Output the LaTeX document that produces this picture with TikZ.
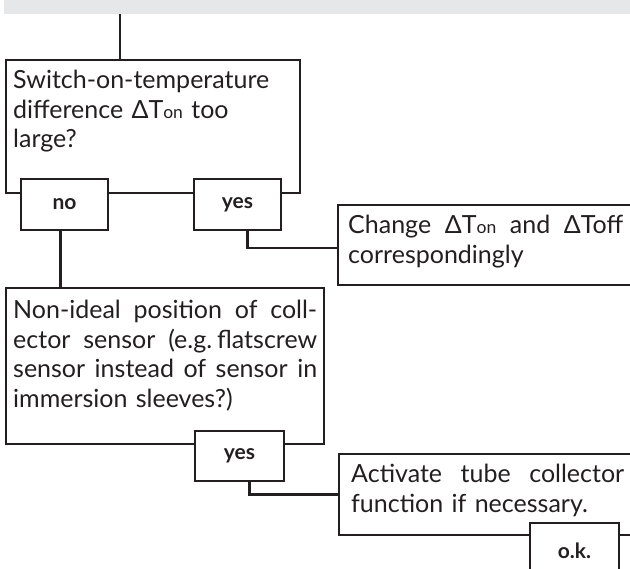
\documentclass[tikz,border=0pt]{standalone}
\usepackage{fontspec}
\setmainfont{Lato}
\definecolor{ink}{HTML}{231F20}
\definecolor{bar}{HTML}{E6E7E8}
\newcommand{\idx}[1]{{\fontsize{17.5}{17.5}\selectfont #1}}
\newcommand{\gap}{ \hspace{0pt plus 1fill}}
\newcommand{\fillline}[2]{\makebox[#1][l]{#2}}

\begin{document}
\begin{tikzpicture}[x=1pt,y=-1pt,line width=2.4pt,
	frame/.style={draw=ink,anchor=north west,inner sep=0pt},
	txt/.style={anchor=north west,text=ink,inner ysep=10pt,align=left,font=\fontsize{25}{29.5}\selectfont},
	answer/.style={draw=ink,fill=white,text=ink,minimum width=87pt,minimum height=51pt,inner sep=0pt,font=\fontsize{21}{24}\selectfont\bfseries}]
		\clip(0,0) rectangle (630,569);
		\fill[bar](4,0) rectangle (630,14);
		\coordinate(feed) at(120,14);

		\node[frame,minimum width=294pt,minimum height=133pt](q1) at(5,59){};
		\node[txt,inner xsep=7pt,text width=280pt] at(q1.north west){Switch-on-temperature\\difference ΔT\idx{on} too\\large?};

		\node[frame,minimum width=318pt,minimum height=156pt](q2) at(5,287){};
		\node[txt,inner xsep=7pt,inner ysep=12pt,text width=304pt] at(q2.north west){\fillline{304pt}{Non-ideal\gap position\gap of\gap coll-}\\\fillline{304pt}{ector\gap sensor\gap (e.g.\hspace{5pt}flatscrew}\\\fillline{304pt}{sensor\gap instead\gap of\gap sensor\gap in}\\immersion sleeves?)};

		\node[frame,minimum width=300pt,minimum height=80pt](fix1) at(337,204){};
		\node[txt,inner xsep=10pt,text width=275pt] at(fix1.north west){\fillline{275pt}{Change\gap ΔT\idx{on}\gap and\gap ΔToff}\\correspondingly};

		\node[frame,minimum width=300pt,minimum height=81pt](fix2) at(338,453){};
		\node[txt,inner xsep=12pt,text width=273pt] at(fix2.north west){\fillline{273pt}{Activate\gap tube\gap collector}\\function if necessary.};

		\node[answer](no1) at(64.5,204.5){no};
		\node[answer](yes1) at(237.5,204.5){yes};
		\node[answer,minimum width=89pt,minimum height=50pt](yes2) at(239.5,456){yes};
		\node[answer,minimum width=89pt,minimum height=56pt](ok) at(574.5,551){o.k.};

		\draw[ink](feed) to (feed |- q1.north);
		\draw[ink]([xshift=-4pt]no1.south) to ([xshift=-4pt]no1.south |- q2.north);
		\draw[ink]([xshift=10pt]yes1.south) |- ([yshift=-3pt]fix1.west);
		\draw[ink]([xshift=10pt]yes2.south) |- (fix2.west);
	\end{tikzpicture}
\end{document}
